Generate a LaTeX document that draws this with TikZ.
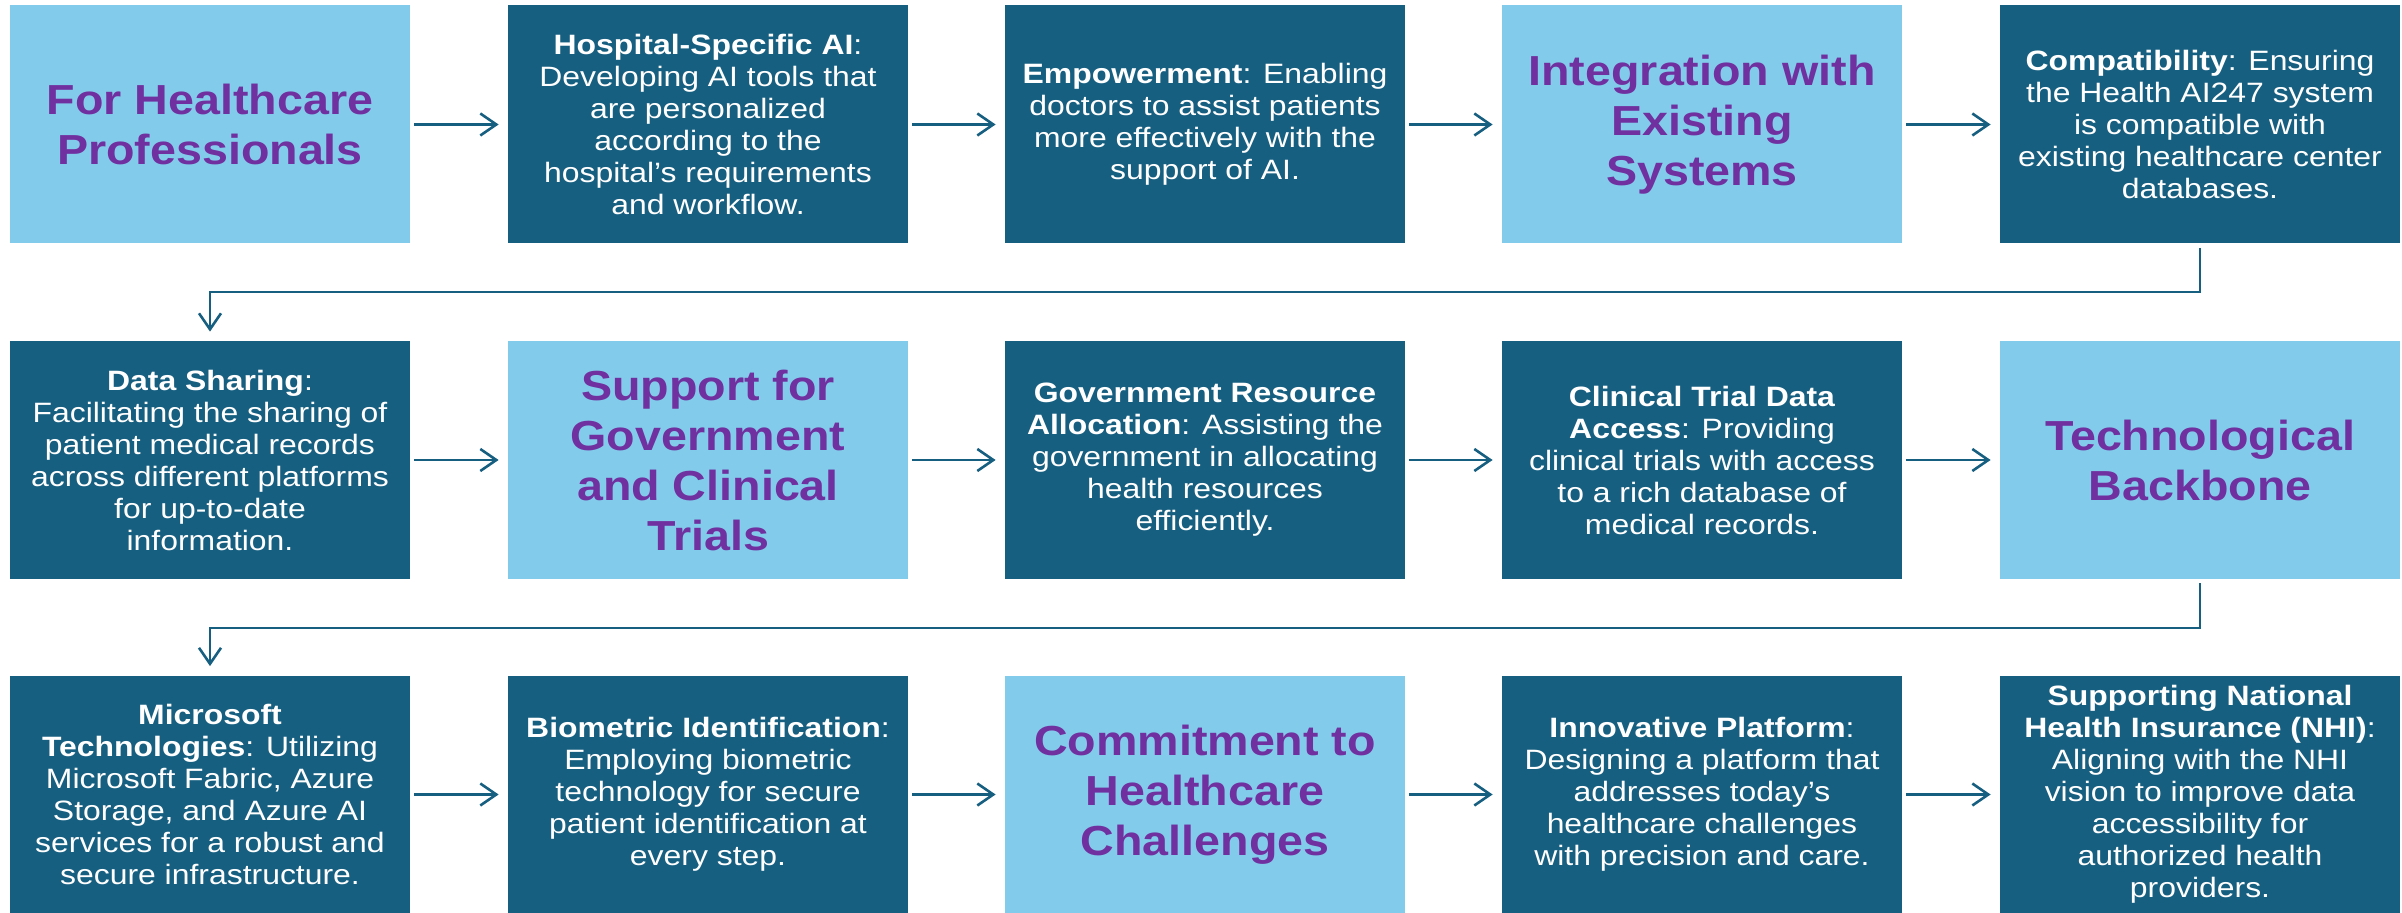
\documentclass[tikz,border=0pt]{standalone}
\usepackage{fontspec}
\setmainfont{Liberation Sans}
\newfontfamily\bodyfont[FakeStretch=1.14]{Liberation Sans}
\newfontfamily\titlefont[FakeStretch=1.11]{Liberation Sans}
\usetikzlibrary{arrows.meta}
\definecolor{lightb}{HTML}{83CBEB}
\definecolor{darkb}{HTML}{175F80}
\definecolor{purp}{HTML}{7030A0}
\tikzset{
  box/.style={minimum width=200pt, minimum height=119pt, inner sep=0pt, align=center, draw=none},
  darkbox/.style={box, fill=darkb, text=white, font=\bodyfont\fontsize{14pt}{16pt}\selectfont},
  lightbox/.style={box, fill=lightb, text=purp, font=\titlefont\bfseries\fontsize{21pt}{25pt}\selectfont},
  arr/.style={draw=darkb, line width=1.1pt, -{Straight Barb[length=8pt,width=11pt,line width=1.3pt]}, shorten <=2pt, shorten >=4.5pt},
}
\begin{document}
\begin{tikzpicture}[x=0.5pt,y=-0.5pt]
\useasboundingbox (0,0) rectangle (2402,913);
% row 1
\node[lightbox] (a1) at (210,124.5) {For Healthcare\\Professionals};
\node[darkbox] (a2) at (708,124.5) {\textbf{Hospital-Specific AI}:\\Developing AI tools that\\are personalized\\according to the\\hospital’s requirements\\and workflow.};
\node[darkbox] (a3) at (1205,124.5) {\textbf{Empowerment}: Enabling\\doctors to assist patients\\more effectively with the\\support of AI.};
\node[lightbox] (a4) at (1702,124.5) {Integration with\\Existing\\Systems};
\node[darkbox] (a5) at (2200,124.5) {\textbf{Compatibility}: Ensuring\\the Health AI247 system\\is compatible with\\existing healthcare center\\databases.};
% row 2
\node[darkbox] (b1) at (210,460) {\textbf{Data Sharing}:\\Facilitating the sharing of\\patient medical records\\across different platforms\\for up-to-date\\information.};
\node[lightbox] (b2) at (708,460) {Support for\\Government\\and Clinical\\Trials};
\node[darkbox] (b3) at (1205,460) {\textbf{Government Resource}\\\textbf{Allocation}: Assisting the\\government in allocating\\health resources\\efficiently.};
\node[darkbox] (b4) at (1702,460) {\textbf{Clinical Trial Data}\\\textbf{Access}: Providing\\clinical trials with access\\to a rich database of\\medical records.};
\node[lightbox] (b5) at (2200,460) {Technological\\Backbone};
% row 3
\node[darkbox] (c1) at (210,794.5) {\textbf{Microsoft}\\\textbf{Technologies}: Utilizing\\Microsoft Fabric, Azure\\Storage, and Azure AI\\services for a robust and\\secure infrastructure.};
\node[darkbox] (c2) at (708,794.5) {\textbf{Biometric Identification}:\\Employing biometric\\technology for secure\\patient identification at\\every step.};
\node[lightbox] (c3) at (1205,794.5) {Commitment to\\Healthcare\\Challenges};
\node[darkbox] (c4) at (1702,794.5) {\textbf{Innovative Platform}:\\Designing a platform that\\addresses today’s\\healthcare challenges\\with precision and care.};
\node[darkbox] (c5) at (2200,794.5) {\textbf{Supporting National}\\\textbf{Health Insurance (NHI)}:\\Aligning with the NHI\\vision to improve data\\accessibility for\\authorized health\\providers.};
% horizontal arrows
\foreach \r in {a,b,c}{
  \draw[arr] (\r1.east) -- (\r2.west);
  \draw[arr] (\r2.east) -- (\r3.west);
  \draw[arr] (\r3.east) -- (\r4.west);
  \draw[arr] (\r4.east) -- (\r5.west);
}
% wrap connectors
\coordinate (k1) at (210,292);
\coordinate (k2) at (210,628);
\draw[arr] (a5.south) |- (k1) -- (b1.north);
\draw[arr] (b5.south) |- (k2) -- (c1.north);
\end{tikzpicture}
\end{document}
